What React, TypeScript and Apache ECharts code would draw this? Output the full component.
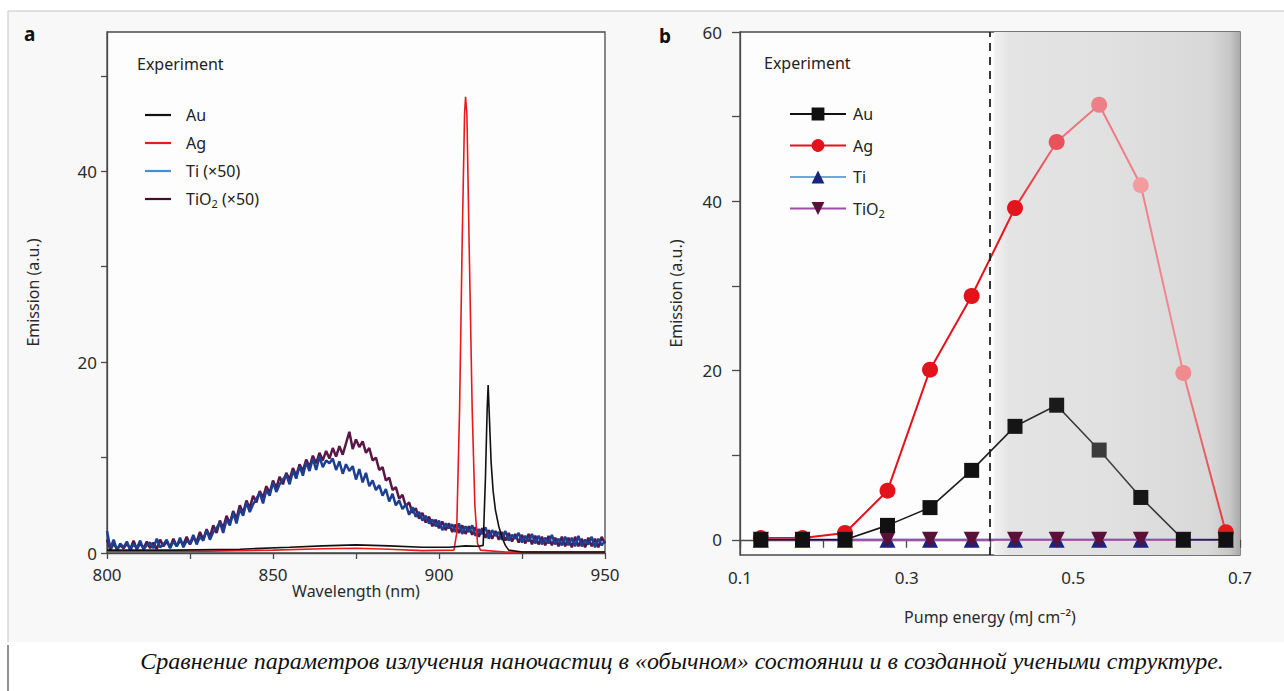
import React, { useEffect, useRef } from "react";
import * as echarts from "echarts";

// ---------- Panel a: spectra ----------
const auWavelength = [800, 820, 840, 855, 865, 875, 885, 895, 903, 908, 912, 913.3, 914.0, 914.5, 914.8, 915.2, 915.7, 916.3, 917, 918, 919, 920, 921, 925, 950];
const auEmission = [0.3, 0.3, 0.4, 0.6, 0.75, 0.85, 0.75, 0.6, 0.6, 0.75, 0.7, 0.8, 8, 15, 17.6, 14, 9.5, 6.5, 4.5, 2.8, 1.6, 0.8, 0.3, 0.1, 0.1];

const agWavelength = [800, 830, 850, 865, 875, 885, 895, 904.5, 905.3, 906.2, 907.0, 907.7, 908.0, 908.4, 909.1, 910.0, 910.8, 911.6, 912.5, 920, 950];
const agEmission = [0.2, 0.2, 0.3, 0.45, 0.5, 0.4, 0.25, 0.3, 2, 15, 33, 46, 47.8, 46, 32, 15, 5, 1, 0.3, 0.1, 0.1];

const spectrumStart = 800; // nm, 1 nm sampling
const tiEmission = [
  2.3, 0.5, 1.4, 0.3, 1.0, 0.6, 1.2, 0.3, 0.9, 0.5,
  1.3, 0.4, 0.8, 1.1, 0.5, 1.5, 0.6, 0.9, 1.4, 0.5,
  1.2, 0.7, 1.6, 0.6, 1.3, 1.0, 1.9, 0.9, 1.7, 1.3,
  2.4, 1.4, 2.2, 2.6, 3.2, 2.1, 3.5, 2.9, 4.2, 3.1,
  4.6, 3.9, 5.3, 4.3, 5.1, 5.7, 6.3, 5.2, 6.6, 6.0,
  7.4, 6.4, 7.2, 7.7, 8.2, 7.2, 8.6, 7.8, 9.1, 8.1,
  9.5, 8.6, 9.9, 8.7, 10.1, 9.0, 9.7, 9.4, 9.9, 8.7,
  9.6, 8.3, 9.3, 8.6, 9.1, 7.7, 8.8, 7.4, 8.4, 7.0,
  7.6, 6.6, 7.1, 6.0, 6.7, 5.4, 6.2, 5.0, 5.5, 4.6,
  5.1, 4.0, 4.8, 3.8, 4.3, 3.4, 3.9, 3.1, 3.5, 2.8,
  3.4, 2.4, 3.1, 2.6, 3.0, 2.2, 3.1, 2.0, 2.8, 2.2,
  2.9, 1.8, 2.5, 2.0, 2.7, 1.5, 2.4, 1.8, 2.2, 1.4,
  2.3, 1.3, 1.9, 1.5, 2.1, 1.1, 1.8, 1.2, 2.0, 1.0,
  1.8, 0.9, 1.6, 1.0, 1.9, 0.9, 1.5, 0.8, 1.7, 0.8,
  1.6, 0.7, 1.8, 0.7, 1.4, 0.9, 1.7, 0.6, 1.5, 0.8,
  1.3,
];
const tio2Emission = [
  1.4, 0.3, 1.0, 0.4, 0.8, 0.5, 1.0, 0.4, 1.3, 0.4,
  1.0, 0.5, 1.2, 0.5, 1.1, 0.4, 1.4, 0.7, 1.2, 0.6,
  1.5, 0.7, 1.3, 0.9, 1.7, 0.9, 1.6, 1.2, 2.2, 1.4,
  2.5, 1.7, 2.9, 2.1, 3.4, 2.6, 3.9, 3.1, 4.4, 3.6,
  5.0, 4.2, 5.5, 4.7, 6.0, 5.3, 6.5, 5.8, 7.0, 6.3,
  7.6, 6.8, 8.0, 7.2, 8.4, 7.7, 8.9, 8.1, 9.3, 8.6,
  9.8, 9.0, 10.2, 9.4, 10.5, 9.7, 10.7, 9.9, 11.0, 10.1,
  11.2, 10.3, 11.5, 12.7, 10.9, 11.9, 11.1, 11.7, 10.5, 11.0,
  9.7, 10.0, 8.7, 9.0, 7.6, 7.9, 6.6, 6.9, 5.7, 6.1,
  4.9, 5.3, 4.2, 4.7, 3.6, 4.2, 3.2, 3.8, 2.8, 3.5,
  2.6, 3.3, 2.4, 3.1, 2.2, 3.0, 2.1, 2.9, 2.0, 2.8,
  1.9, 2.7, 1.7, 2.6, 1.6, 2.4, 1.5, 2.3, 1.4, 2.2,
  1.3, 2.1, 1.2, 2.0, 1.1, 1.9, 1.0, 2.0, 0.9, 1.8,
  0.9, 1.7, 0.8, 1.8, 0.8, 1.6, 0.7, 1.7, 0.7, 1.6,
  0.6, 1.7, 0.7, 1.5, 0.6, 1.6, 0.7, 1.5, 0.6, 1.7,
  1.0,
];

const aXTicks = [800, 825, 850, 875, 900, 925, 950];
const aXLabels = [800, 850, 900, 950];
const aYTicks = [0, 10, 20, 30, 40, 50];
const aYLabels = [0, 20, 40];

// ---------- Panel b: pump energy dependence ----------
const pumpEnergy = [0.125, 0.175, 0.226, 0.277, 0.328, 0.378, 0.43, 0.48, 0.531, 0.581, 0.632, 0.683];
const auPump = [0, 0, 0, 1.7, 3.8, 8.2, 13.4, 15.9, 10.6, 5.0, 0, 0];
const agPump = [0.2, 0.2, 0.8, 5.8, 20.1, 28.8, 39.2, 47.0, 51.4, 41.9, 19.7, 0.9];
const tiPump = [0, 0, 0, 0, 0, 0, 0, 0, 0, 0, 0, 0];
const tio2Pump = [0, 0, 0, 0, 0, 0, 0, 0, 0, 0, 0, 0];
const thresholdEnergy = 0.4;
const shadedRange = [0.405, 0.7];

const bXTicks = [0.1, 0.2, 0.3, 0.4, 0.5, 0.6, 0.7];
const bXLabels = [0.1, 0.3, 0.5, 0.7];
const bYTicks = [0, 10, 20, 30, 40, 50, 60];
const bYLabels = [0, 20, 40, 60];

// styles (kept apart from data)
const agMarkerShade = ["#e3121b", "#e3121b", "#e3121b", "#e3121b", "#e3121b", "#e3121b", "#e3141e", "#e9525c", "#ef7f86", "#f29ca0", "#ef8a90", "#e51c1c"];
const auMarkerShade = ["#111", "#111", "#111", "#111", "#111", "#111", "#151515", "#1a1a1a", "#3b3b3b", "#161616", "#111", "#111"];

const FONT = "Noto Sans";
const CAPTION = "Сравнение параметров излучения наночастиц в «обычном» состоянии и в созданной учеными структуре.";

const zip = (xs: number[], ys: number[]) => ys.map((y, i) => [xs[i], y]);
const gridSeries = (ys: number[]) => ys.map((y, i) => [spectrumStart + i, y]);

const legendNames: Record<string, string> = {
  Au: "Au",
  Ag: "Ag",
  "Ti (×50)": "Ti (×50)",
  "TiO2 (×50)": "TiO{sub|2} (×50)",
  Au_b: "Au",
  Ag_b: "Ag",
  Ti_b: "Ti",
  TiO2_b: "TiO{sub|2}",
};

export default function App() {
  const ref = useRef<HTMLDivElement>(null);
  useEffect(() => {
    document.body.style.margin = "0";
    if (!ref.current) return;
    const chart = echarts.init(ref.current, null, { renderer: "svg" });

    const axisLineStyle = { color: "#4a4a4a", width: 1.3 };
    const labelStyle = { fontFamily: FONT, fontSize: 17, color: "#2a2a2a" };
    const nameStyle = { fontFamily: FONT, fontSize: 16, color: "#2a2a2a" };
    const legendText = {
      fontFamily: FONT,
      fontSize: 16,
      color: "#222",
      rich: {
        sub: { fontFamily: FONT, fontSize: 11, color: "#222", padding: [9, 0, 0, 0] },
      },
    };

    const option: any = {
      animation: false,
      backgroundColor: "transparent",
      textStyle: { fontFamily: FONT },
      grid: [
        { left: 107, top: 32, width: 498, height: 521, show: true, borderColor: "#4a4a4a", borderWidth: 1.3, backgroundColor: "#fdfdfd" },
        { left: 740, top: 32, width: 500, height: 523, show: true, borderColor: "#4a4a4a", borderWidth: 1.3, backgroundColor: "#fdfdfd" },
      ],
      xAxis: [
        {
          type: "value", gridIndex: 0, min: 800, max: 950,
          name: "Wavelength (nm)", nameLocation: "middle", nameGap: 30, nameMoveOverlap: false, nameTextStyle: nameStyle,
          axisLine: { lineStyle: axisLineStyle },
          axisTick: { show: true, length: 6, customValues: aXTicks, lineStyle: axisLineStyle },
          axisLabel: { customValues: aXLabels, margin: 13, ...labelStyle },
          splitLine: { show: false },
        },
        {
          type: "value", gridIndex: 1, min: 0.1, max: 0.7,
          name: "Pump energy (mJ cm⁻²)", nameLocation: "middle", nameGap: 54, nameMoveOverlap: false, nameTextStyle: nameStyle,
          axisLine: { lineStyle: axisLineStyle },
          axisTick: { show: true, length: 8, customValues: bXTicks, lineStyle: axisLineStyle },
          axisLabel: { customValues: bXLabels, margin: 14, ...labelStyle, formatter: (v: number) => v.toFixed(1) },
          splitLine: { show: false },
        },
      ],
      yAxis: [
        {
          type: "value", gridIndex: 0, min: 0, max: 54.6,
          name: "Emission (a.u.)", nameLocation: "middle", nameGap: 66, nameTextStyle: nameStyle,
          axisLine: { show: true, lineStyle: axisLineStyle },
          axisTick: { show: true, length: 6, customValues: aYTicks, lineStyle: axisLineStyle },
          axisLabel: { customValues: aYLabels, margin: 10, ...labelStyle },
          splitLine: { show: false },
        },
        {
          type: "value", gridIndex: 1, min: -1.8, max: 60,
          name: "Emission (a.u.)", nameLocation: "middle", nameGap: 56, nameTextStyle: nameStyle,
          axisLine: { show: true, lineStyle: axisLineStyle },
          axisTick: { show: true, length: 8, customValues: bYTicks, lineStyle: axisLineStyle },
          axisLabel: { customValues: bYLabels, margin: 18, ...labelStyle },
          splitLine: { show: false },
        },
      ],
      legend: [
        {
          data: [
            { name: "Au", itemStyle: { color: "#111" } },
            { name: "Ag", itemStyle: { color: "#e8191f" } },
            { name: "Ti (×50)", itemStyle: { color: "#4a8ed0" } },
            { name: "TiO2 (×50)", itemStyle: { color: "#4a0c2c" } },
          ],
          icon: "rect",
          orient: "vertical", left: 140, top: 102, itemWidth: 26, itemHeight: 2.2, itemGap: 12,
          textStyle: { ...legendText, padding: [0, 0, 0, 10] },
          formatter: (n: string) => legendNames[n] || n,
          selectedMode: false,
        },
        {
          data: [
            { name: "Au_b", lineStyle: { color: "#111", width: 1.8 } },
            { name: "Ag_b", lineStyle: { color: "#e3121b", width: 1.8 } },
            { name: "Ti_b" },
            { name: "TiO2_b" },
          ],
          orient: "vertical", left: 784, top: 101, itemWidth: 56, itemHeight: 16, itemGap: 15.5,
          textStyle: { ...legendText, padding: [0, 0, 0, 2] },
          formatter: (n: string) => legendNames[n] || n,
          selectedMode: false,
        },
      ],
      series: [
        // panel a
        {
          name: "TiO2 (×50)", type: "line", xAxisIndex: 0, yAxisIndex: 0, symbol: "none", z: 2,
          data: gridSeries(tio2Emission), color: "#5a1646", lineStyle: { color: "#5a1646", width: 2.5 },
        },
        {
          name: "Ti (×50)", type: "line", xAxisIndex: 0, yAxisIndex: 0, symbol: "none", z: 3,
          data: gridSeries(tiEmission), color: "#2c62b0", lineStyle: { color: "#1d3f92", width: 2.5 },
        },
        {
          name: "Ag", type: "line", xAxisIndex: 0, yAxisIndex: 0, symbol: "none", z: 4,
          data: zip(agWavelength, agEmission), color: "#e8191f", lineStyle: { color: "#e8191f", width: 1.6 },
        },
        {
          name: "Au", type: "line", xAxisIndex: 0, yAxisIndex: 0, symbol: "none", z: 5,
          data: zip(auWavelength, auEmission), color: "#111", lineStyle: { color: "#111", width: 1.6 },
        },
        // panel b: shading + threshold
        {
          type: "line", xAxisIndex: 1, yAxisIndex: 1, data: [], z: 0, silent: true,
          markArea: {
            silent: true,
            itemStyle: {
              color: new echarts.graphic.LinearGradient(0, 0, 1, 0, [
                { offset: 0, color: "#f2f2f2" },
                { offset: 0.06, color: "#e4e4e4" },
                { offset: 0.5, color: "#e0e0e0" },
                { offset: 0.88, color: "#d8d8d8" },
                { offset: 0.96, color: "#c6c6c6" },
                { offset: 1, color: "#aaaaaa" },
              ]),
            },
            data: [[{ xAxis: shadedRange[0] }, { xAxis: shadedRange[1] }]],
          },
          markLine: {
            silent: true, symbol: "none", label: { show: false },
            lineStyle: { color: "#222", width: 1.8, type: [8, 6] },
            data: [{ xAxis: thresholdEnergy }],
          },
        },
        {
          name: "Ag_b", type: "line", xAxisIndex: 1, yAxisIndex: 1, z: 2,
          symbol: "circle", symbolSize: 16,
          data: pumpEnergy.map((x, i) => ({ value: [x, agPump[i]], itemStyle: { color: agMarkerShade[i] } })),
          itemStyle: { color: "#e3121b" },
          lineStyle: {
            width: 2,
            color: new echarts.graphic.LinearGradient(0, 0, 1, 0, [
              { offset: 0, color: "#e3121b" },
              { offset: 0.52, color: "#e3121b" },
              { offset: 0.64, color: "#ee7078" },
              { offset: 0.9, color: "#f08a90" },
              { offset: 1, color: "#e63a3a" },
            ]),
          },
        },
        {
          name: "Ti_b", type: "line", xAxisIndex: 1, yAxisIndex: 1, z: 3,
          symbol: "triangle", symbolSize: 16,
          data: zip(pumpEnergy, tiPump),
          itemStyle: { color: "#1c237e" }, lineStyle: { color: "#6fa7dc", width: 2.2 },
        },
        {
          name: "TiO2_b", type: "line", xAxisIndex: 1, yAxisIndex: 1, z: 4,
          symbol: "triangle", symbolRotate: 180, symbolSize: 16,
          data: zip(pumpEnergy, tio2Pump),
          itemStyle: { color: "#5a1038" }, lineStyle: { color: "#a24aa8", width: 2.2 },
        },
        {
          name: "Au_b", type: "line", xAxisIndex: 1, yAxisIndex: 1, z: 5,
          symbol: "rect", symbolSize: 15,
          data: pumpEnergy.map((x, i) => ({ value: [x, auPump[i]], itemStyle: { color: auMarkerShade[i] } })),
          itemStyle: { color: "#111" },
          lineStyle: {
            width: 1.6,
            color: new echarts.graphic.LinearGradient(0, 0, 1, 0, [
              { offset: 0, color: "#111" },
              { offset: 0.55, color: "#222" },
              { offset: 0.75, color: "#444" },
              { offset: 1, color: "#222" },
            ]),
          },
        },
      ],
      graphic: [
        { type: "rect", z: -10, silent: true, shape: { x: 8, y: 11, width: 1276, height: 631 }, style: { fill: "#f8f8f8" } },
        { type: "line", z: -9, silent: true, shape: { x1: 8, y1: 11, x2: 1284, y2: 11 }, style: { stroke: "#c4c4c4", lineWidth: 1 } },
        { type: "line", z: -9, silent: true, shape: { x1: 8, y1: 11, x2: 8, y2: 642 }, style: { stroke: "#c4c4c4", lineWidth: 1 } },
        { type: "line", z: -9, silent: true, shape: { x1: 8, y1: 645, x2: 8, y2: 691 }, style: { stroke: "#222", lineWidth: 1 } },
        { type: "text", x: 24, y: 24, style: { text: "a", font: `bold 19px "${FONT}"`, fill: "#111" } },
        { type: "text", x: 659, y: 26, style: { text: "b", font: `bold 19px "${FONT}"`, fill: "#111" } },
        { type: "text", x: 137, y: 56, style: { text: "Experiment", font: `16px "${FONT}"`, fill: "#222" } },
        { type: "text", x: 764, y: 55, style: { text: "Experiment", font: `16px "${FONT}"`, fill: "#222" } },
        {
          type: "text", x: 682, y: 661,
          style: {
            text: CAPTION, font: `italic 24px "Liberation Serif"`, fill: "#111",
            textAlign: "center", textVerticalAlign: "middle",
          },
        },
      ],
    };

    chart.setOption(option);
    return () => chart.dispose();
  }, []);

  return <div ref={ref} style={{ width: 1284, height: 691 }} />;
}
